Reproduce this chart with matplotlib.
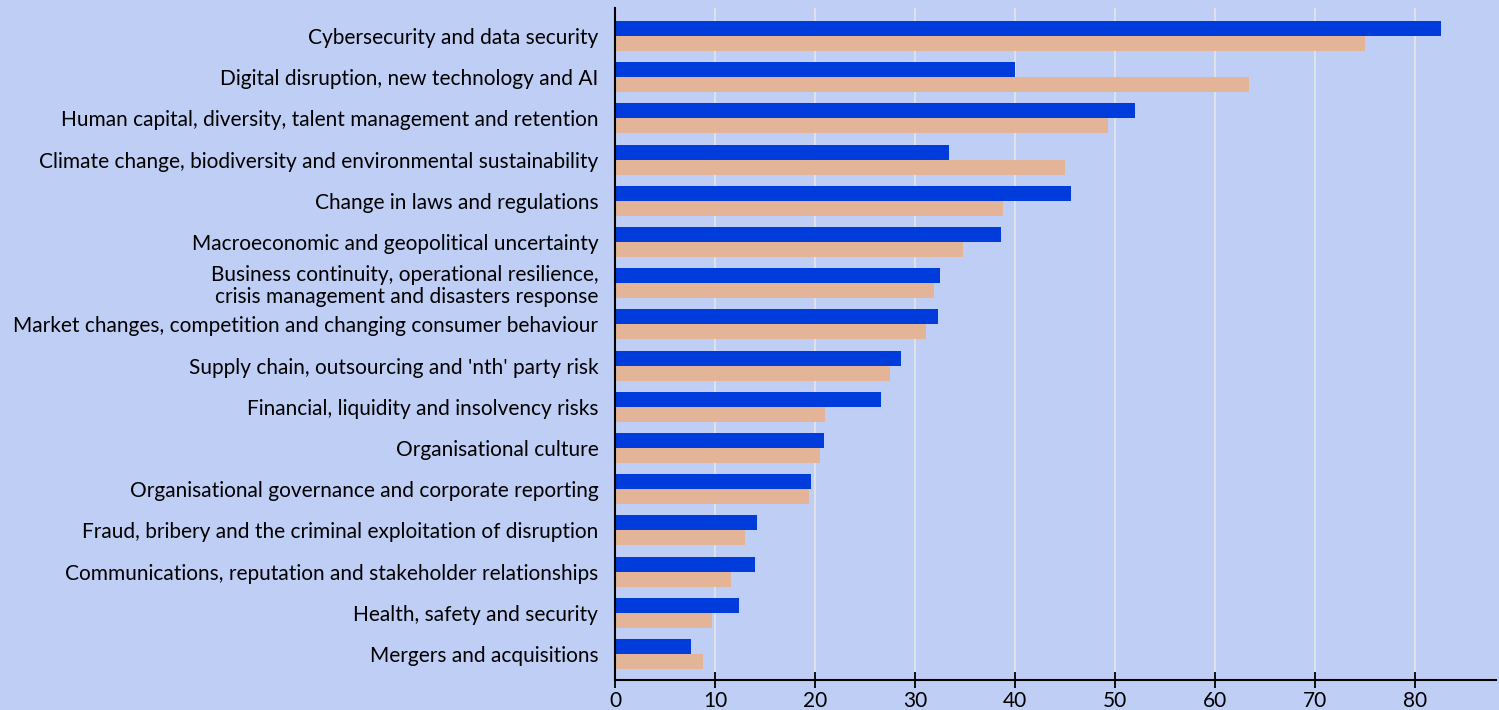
import numpy as np
import matplotlib
matplotlib.use("Agg")
import matplotlib.pyplot as plt

# categories top to bottom
categories = [
    "Cybersecurity and data security",
    "Digital disruption, new technology and AI",
    "Human capital, diversity, talent management and retention",
    "Climate change, biodiversity and environmental sustainability",
    "Change in laws and regulations",
    "Macroeconomic and geopolitical uncertainty",
    "Business continuity, operational resilience,\ncrisis management and disasters response",
    "Market changes, competition and changing consumer behaviour",
    "Supply chain, outsourcing and 'nth' party risk",
    "Financial, liquidity and insolvency risks",
    "Organisational culture",
    "Organisational governance and corporate reporting",
    "Fraud, bribery and the criminal exploitation of disruption",
    "Communications, reputation and stakeholder relationships",
    "Health, safety and security",
    "Mergers and acquisitions",
]
blue_vals = [82.6, 40.0, 52.0, 33.4, 45.6, 38.6, 32.5, 32.3, 28.6, 26.6,
             20.9, 19.6, 14.2, 14.0, 12.4, 7.6]
orange_vals = [75.0, 63.4, 49.3, 45.0, 38.8, 34.8, 31.9, 31.1, 27.5, 21.0,
               20.5, 19.4, 13.0, 11.6, 9.7, 8.8]
xticks = [0, 10, 20, 30, 40, 50, 60, 70, 80]

bg = "#BFCEF5"
blue = "#003BDB"
orange = "#E4B499"

plt.rcParams["font.family"] = ["Lato", "DejaVu Sans"]

fig = plt.figure(figsize=(14.99, 7.10), dpi=100, facecolor=bg)
ax = fig.add_axes([615 / 1499, 30 / 710, 881 / 1499, 672 / 710])
ax.set_facecolor(bg)

y = np.arange(len(categories))
h = 0.365
ax.barh(y - h / 2, blue_vals, height=h, color=blue, zorder=3)
ax.barh(y + h / 2, orange_vals, height=h, color=orange, zorder=3)

ax.set_xlim(0, 88.1)
ax.set_ylim(15.63, -0.68)
ax.set_xticks(xticks)
ax.set_yticks(y)
ax.set_yticklabels(categories, fontsize=15, linespacing=1.1)
ax.tick_params(axis="y", length=0, pad=12)
ax.tick_params(axis="x", direction="inout", length=12, width=1.3, labelsize=15, pad=2)
ax.grid(axis="x", color="#E6E6E6", linewidth=1.2, zorder=0)
ax.set_axisbelow(True)

for s in ["top", "right"]:
    ax.spines[s].set_visible(False)
for s in ["left", "bottom"]:
    ax.spines[s].set_color("black")
    ax.spines[s].set_linewidth(1.5)
    ax.spines[s].set_zorder(4)

fig.savefig("out.png", dpi=100, facecolor=bg)
